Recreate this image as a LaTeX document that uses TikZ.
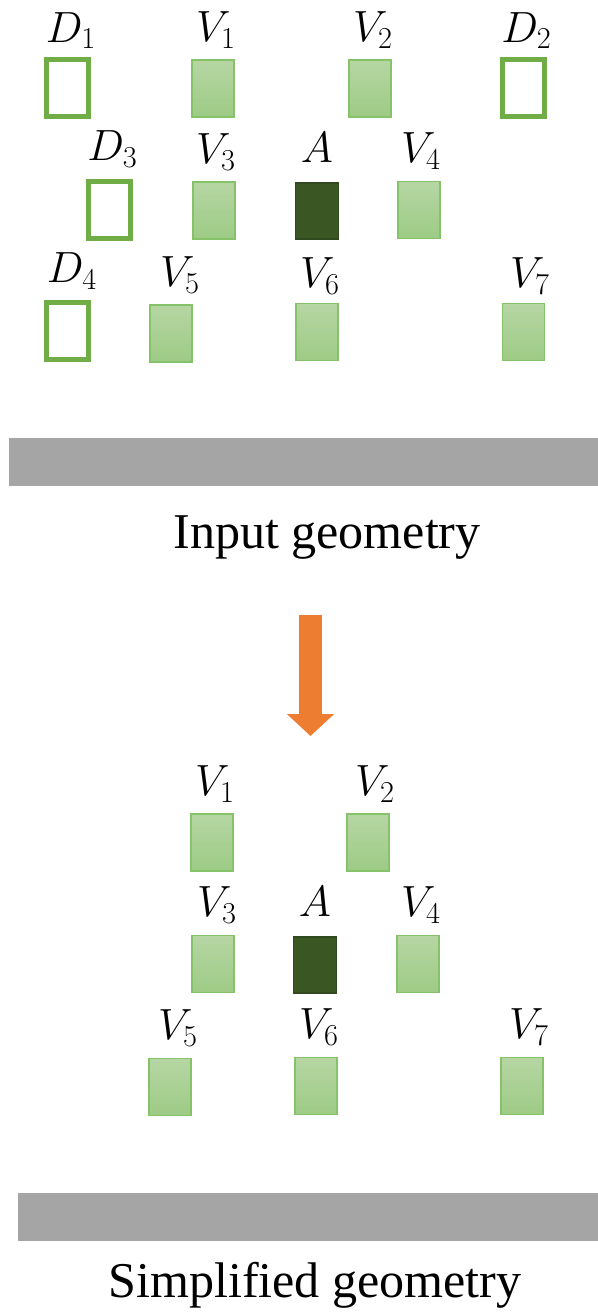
\documentclass[tikz,border=0pt]{standalone}
\usepackage{fontspec}
\setmainfont{Liberation Serif}
\usetikzlibrary{positioning,arrows.meta}
\definecolor{geoGreen}{HTML}{70AD47}
\definecolor{geoTop}{HTML}{B6D6A3}
\definecolor{geoBot}{HTML}{9DCB85}
\definecolor{geoEdge}{HTML}{86C26A}
\definecolor{geoDark}{HTML}{3A5623}
\definecolor{geoGray}{HTML}{A5A5A5}
\definecolor{geoOrange}{HTML}{ED7D31}
\tikzset{
  vox/.style={draw=geoEdge, line width=0.6pt, top color=geoTop, bottom color=geoBot, minimum width=0.84cm, minimum height=1.14cm, inner sep=0pt},
  dum/.style={draw=geoGreen, line width=0.1cm, fill=white, minimum width=0.84cm, minimum height=1.14cm, inner sep=0pt},
  act/.style={draw=geoDark!85!black, line width=0.6pt, fill=geoDark, minimum width=0.86cm, minimum height=1.12cm, inner sep=0pt},
  lbl/.style={inner sep=0pt, font=\fontsize{25}{30}\selectfont},
  capt/.style={inner sep=0pt, anchor=base, font=\fontsize{28.5}{34}\selectfont},
  flow/.style={draw=geoOrange, line width=0.46cm, -{Triangle[length=0.44cm, width=0.92cm]}},
}

\begin{document}
\begin{tikzpicture}[x=0.02cm, y=-0.02cm, node distance=0.36cm]
  \useasboundingbox (0,0) rectangle (598,1313);
  % input geometry
  \node[dum] (d1) at (67.5,88) {};
  \node[vox] (v1) at (213,88.5) {};
  \node[vox] (v2) at (370,88.5) {};
  \node[dum] (d2) at (523.5,88) {};
  \node[dum] (d3) at (109.5,209.5) {};
  \node[vox] (v3) at (214,210.5) {};
  \node[act] (a) at (317,211) {};
  \node[vox] (v4) at (419,210) {};
  \node[dum] (d4) at (67.5,330.5) {};
  \node[vox] (v5) at (171,333.5) {};
  \node[vox] (v6) at (317,332) {};
  \node[vox] (v7) at (523.5,332) {};
  \node[lbl, above=0.3cm of d1, anchor=base, xshift=0.07cm] (d1l) {$D_1$};
  \node[lbl, above=of v1, anchor=base, xshift=0.06cm] (v1l) {$V_1$};
  \node[lbl, above=of v2, anchor=base, xshift=0.06cm] (v2l) {$V_2$};
  \node[lbl, above=0.3cm of d2, anchor=base, xshift=0.06cm] (d2l) {$D_2$};
  \node[lbl, above=of d3, anchor=base, xshift=0.06cm] (d3l) {$D_3$};
  \node[lbl, above=of v3, anchor=base, xshift=0.04cm] (v3l) {$V_3$};
  \node[lbl, above=0.4cm of a, anchor=base] (al) {$A$};
  \node[lbl, above=of v4, anchor=base, xshift=0.04cm] (v4l) {$V_4$};
  \node[lbl, above=0.34cm of d4, anchor=base, xshift=0.09cm] (d4l) {$D_4$};
  \node[lbl, above=of v5, anchor=base, xshift=0.18cm] (v5l) {$V_5$};
  \node[lbl, above=0.3cm of v6, anchor=base, xshift=0.06cm] (v6l) {$V_6$};
  \node[lbl, above=0.3cm of v7, anchor=base, xshift=0.13cm] (v7l) {$V_7$};
  \fill[geoGray] (9,438) rectangle (598,486);
  \node[capt] (inCap) at (327,548) {Input geometry};
  % simplification
  \coordinate (arrS) at (310.5,615);
  \coordinate (arrE) at (310.5,736);
  \draw[flow] (arrS) -- (arrE);
  % simplified geometry
  \node[vox] (v1s) at (212,842.5) {};
  \node[vox] (v2s) at (368,842.5) {};
  \node[vox] (v3s) at (213,964) {};
  \node[act] (as) at (315,965) {};
  \node[vox] (v4s) at (418,964) {};
  \node[vox] (v5s) at (170,1087) {};
  \node[vox] (v6s) at (316,1086) {};
  \node[vox] (v7s) at (522,1086) {};
  \node[lbl, above=of v1s, anchor=base, xshift=0.06cm] (v1sl) {$V_1$};
  \node[lbl, above=of v2s, anchor=base, xshift=0.14cm] (v2sl) {$V_2$};
  \node[lbl, above=of v3s, anchor=base, xshift=0.08cm] (v3sl) {$V_3$};
  \node[lbl, above=0.4cm of as, anchor=base] (asl) {$A$};
  \node[lbl, above=of v4s, anchor=base, xshift=0.06cm] (v4sl) {$V_4$};
  \node[lbl, above=of v5s, anchor=base, xshift=0.16cm] (v5sl) {$V_5$};
  \node[lbl, above=of v6s, anchor=base, xshift=0.06cm] (v6sl) {$V_6$};
  \node[lbl, above=of v7s, anchor=base, xshift=0.14cm] (v7sl) {$V_7$};
  \fill[geoGray] (18,1193) rectangle (598,1241);
  \node[capt] (simCap) at (315,1297) {Simplified geometry};
\end{tikzpicture}
\end{document}
